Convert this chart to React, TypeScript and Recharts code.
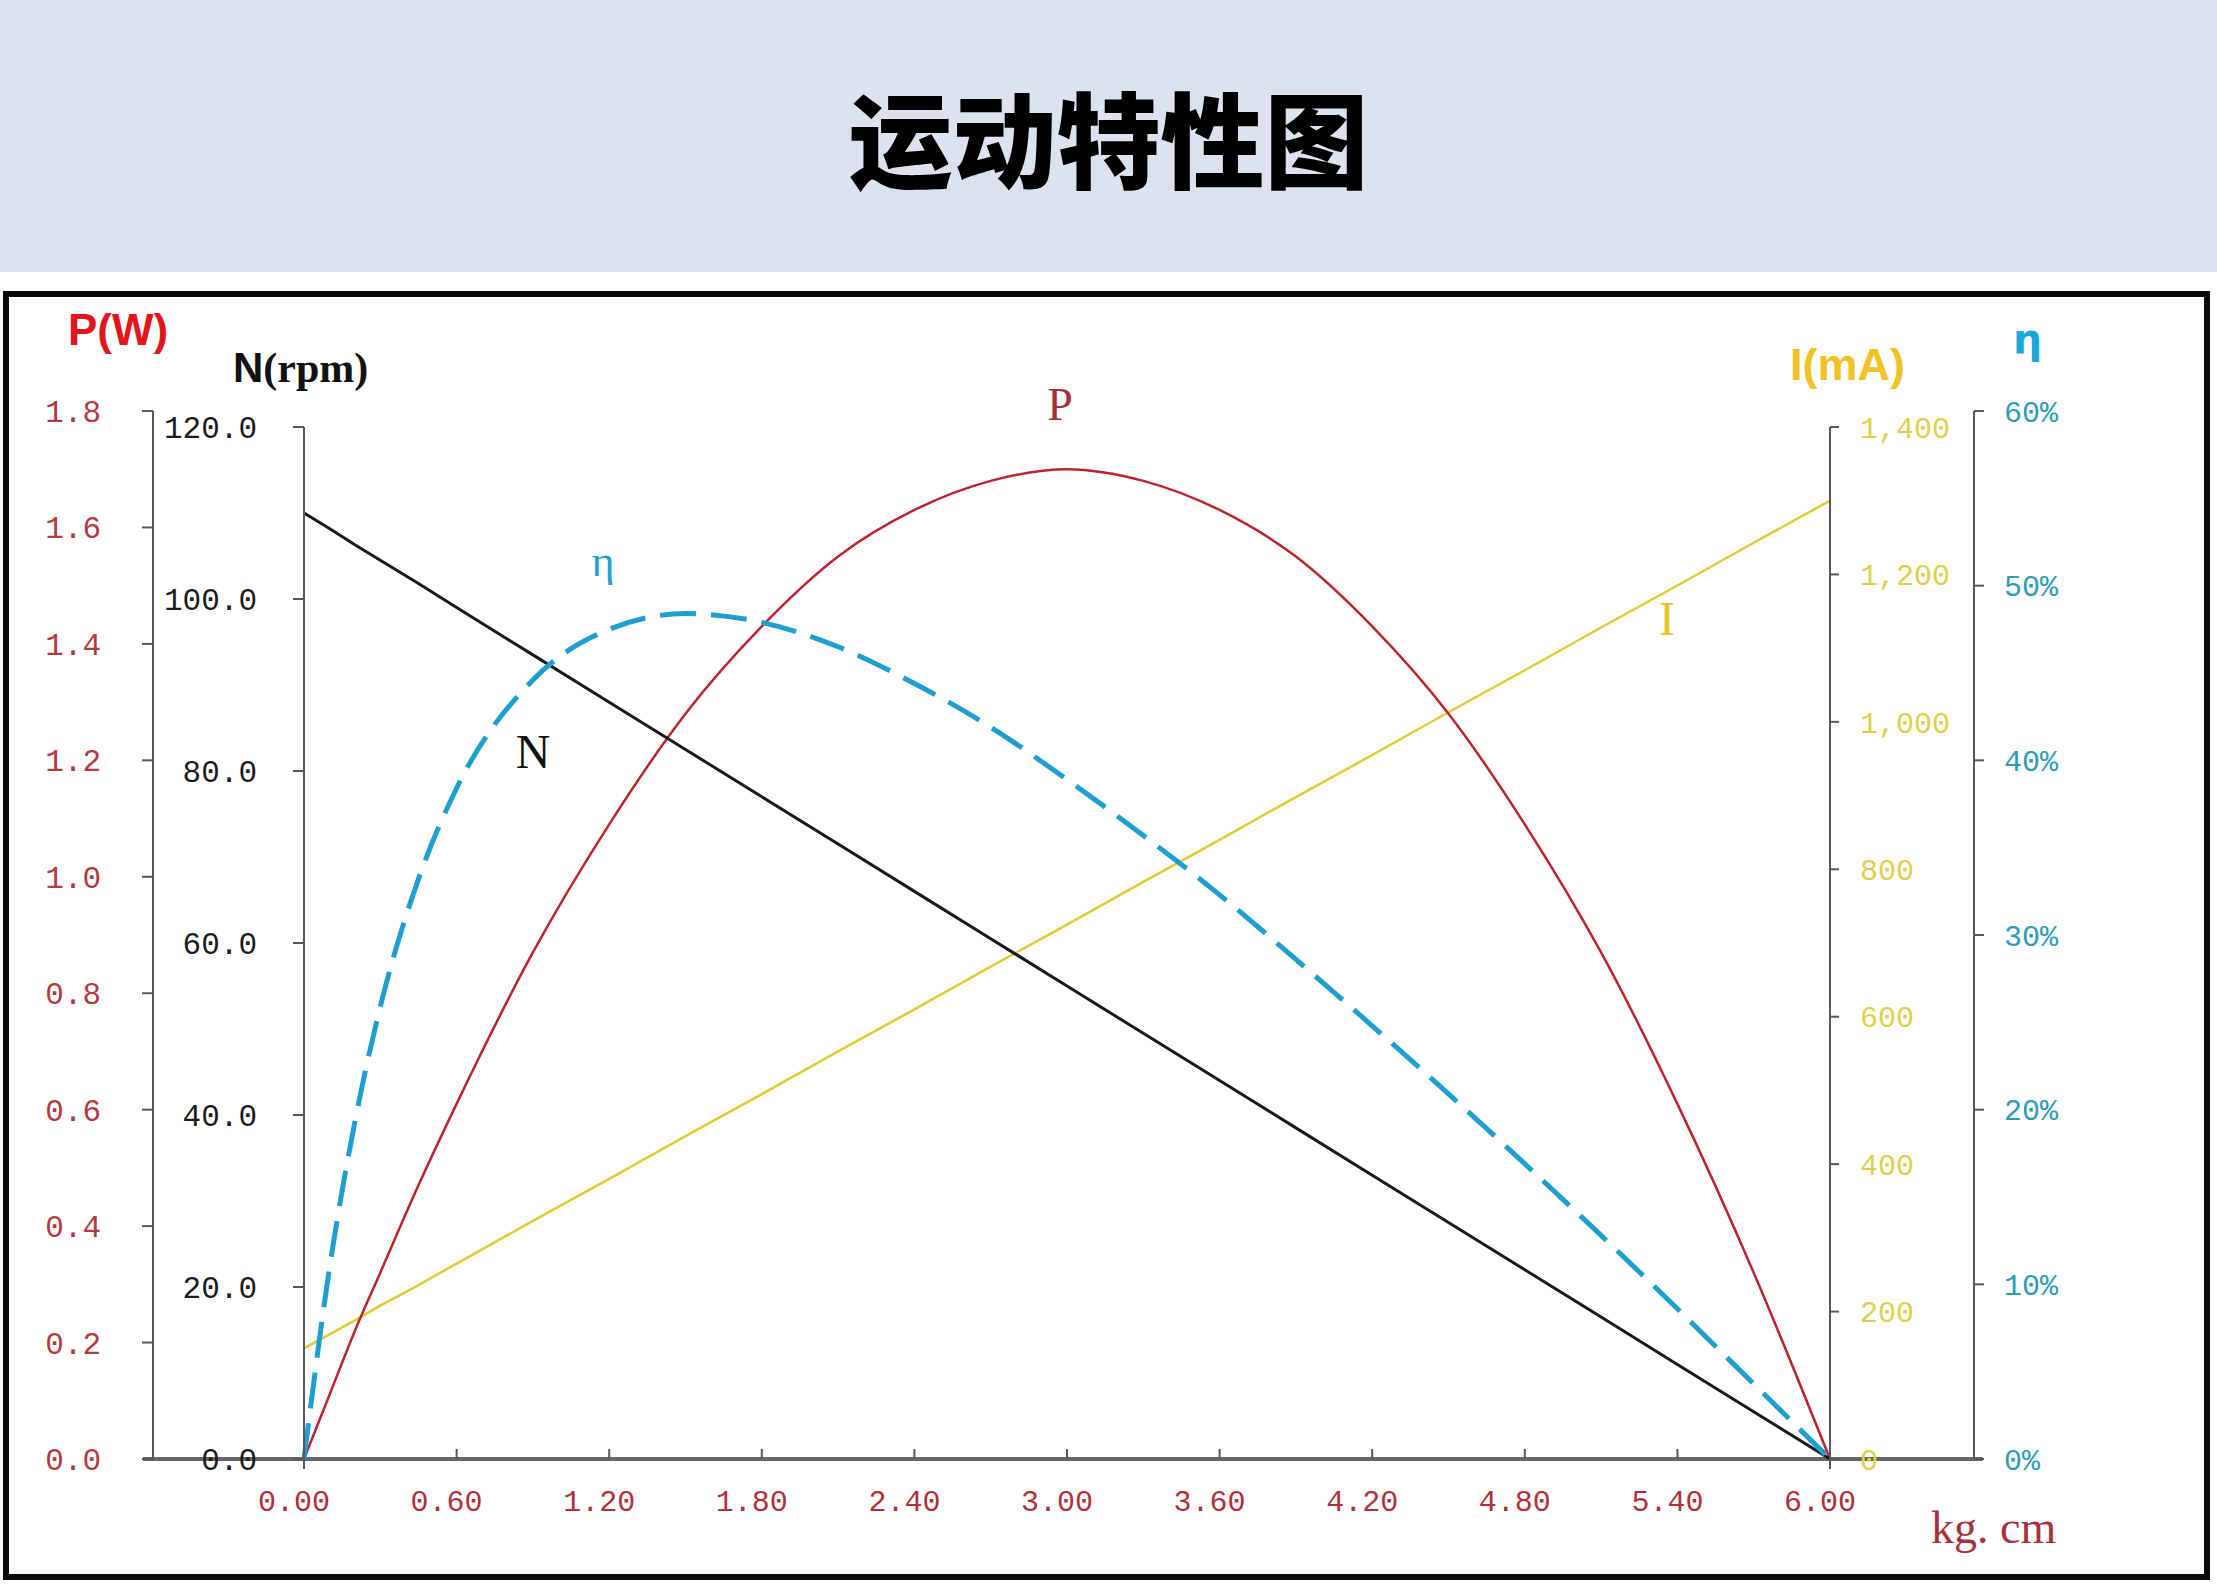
import { LineChart, Line, XAxis, YAxis, ReferenceLine } from "recharts";

// torque (kg.cm) sample points
const torque = [0, 0.1, 0.2, 0.3, 0.45, 0.6, 0.9, 1.2, 1.5, 1.8, 2.1, 2.4, 2.7, 3.0, 3.3, 3.6, 3.9, 4.2, 4.5, 4.8, 5.1, 5.4, 5.7, 6.0];
const powerW = [0, 0.11, 0.22, 0.32, 0.47, 0.61, 0.87, 1.09, 1.28, 1.43, 1.55, 1.63, 1.68, 1.7, 1.68, 1.63, 1.55, 1.43, 1.28, 1.09, 0.87, 0.61, 0.32, 0];
const speedRpm = [110, 108.2, 106.3, 104.5, 101.8, 99, 93.5, 88, 82.5, 77, 71.5, 66, 60.5, 55, 49.5, 44, 38.5, 33, 27.5, 22, 16.5, 11, 5.5, 0];
const currentMa = [150, 169, 188, 208, 236, 265, 323, 380, 438, 495, 553, 610, 668, 725, 783, 840, 898, 955, 1013, 1070, 1128, 1185, 1243, 1300];
const efficiencyPct = [0, 10.9, 19.3, 25.9, 33.2, 38.4, 44.6, 47.5, 48.4, 47.9, 46.5, 44.4, 41.9, 38.9, 35.7, 32.3, 28.6, 24.8, 20.9, 16.9, 12.8, 8.6, 4.3, 0];

const torqueTicks = [0, 0.6, 1.2, 1.8, 2.4, 3.0, 3.6, 4.2, 4.8, 5.4, 6.0];
const powerTicks = [0, 0.2, 0.4, 0.6, 0.8, 1.0, 1.2, 1.4, 1.6, 1.8];
const speedTicks = [0, 20, 40, 60, 80, 100, 120];
const currentTicks = [0, 200, 400, 600, 800, 1000, 1200, 1400];
const efficiencyTicks = [0, 10, 20, 30, 40, 50, 60];

const rows = torque.map((t, i) => ({
  t,
  p: powerW[i],
  n: speedRpm[i],
  i: currentMa[i],
  eta: efficiencyPct[i],
}));

const AXIS = "#585858";
const MONO = "'Liberation Mono', monospace";
const SERIF = "'Liberation Serif', serif";
const SANS = "'Liberation Sans', Arial, sans-serif";

const TorqueTick = ({ x, y, payload }: { x?: number; y?: number; payload?: { value: number } }) => {
  if (x == null || y == null || !payload) return null;
  const end = payload.value === 0 || payload.value === 6;
  return (
    <g>
      <line x1={x} x2={x} y1={end ? y : y - 10} y2={end ? y + 10 : y} stroke={AXIS} strokeWidth={2} />
      <text x={x - 10} y={y + 52} textAnchor="middle" fill="#b0303a" fontSize={30} fontFamily={MONO}>
        {payload.value.toFixed(2)}
      </text>
    </g>
  );
};

export default function App() {
  return (
    <div style={{ position: "absolute", left: 0, top: 0, width: 2217, height: 1589, overflow: "hidden", background: "#fff" }}>
      <div
        style={{
          position: "absolute",
          left: 0,
          top: 0,
          width: 2217,
          height: 272,
          background: "#dde3ee",
          display: "flex",
          alignItems: "center",
          justifyContent: "center",
          fontFamily: "'Noto Sans CJK SC', sans-serif",
          fontWeight: 900,
          fontSize: 104,
          lineHeight: 1,
          color: "#000",
        }}
      >
        运动特性图
      </div>
      <div
        style={{
          position: "absolute",
          left: 3,
          top: 291,
          width: 2207,
          height: 1289,
          boxSizing: "border-box",
          border: "6px solid #0a0a0a",
        }}
      />
      <div style={{ position: "absolute", left: 0, top: 0 }}>
        <LineChart width={2217} height={1589} data={rows} margin={{ top: 411, right: 143, bottom: 70, left: 0 }}>
          <XAxis
            dataKey="t"
            type="number"
            domain={[0, 6]}
            ticks={torqueTicks}
            interval={0}
            height={60}
            axisLine={false}
            tickLine={false}
            tickSize={0}
            tickMargin={0}
            tick={<TorqueTick />}
          />
          <YAxis
            yAxisId="a_speed"
            orientation="left"
            width={151}
            type="number"
            domain={[0, 121.86]}
            ticks={speedTicks}
            interval={0}
            tickFormatter={(v: number) => v.toFixed(1)}
            axisLine={{ stroke: AXIS, strokeWidth: 2, strokeDasharray: "0 16 2000" }}
            tickLine={{ stroke: AXIS, strokeWidth: 2 }}
            tickSize={11}
            tickMargin={36}
            tick={{ fill: "#1c1c1c", fontSize: 31, fontFamily: MONO }}
          />
          <YAxis
            yAxisId="b_power"
            orientation="left"
            width={153}
            type="number"
            domain={[0, 1.8]}
            ticks={powerTicks}
            interval={0}
            tickFormatter={(v: number) => v.toFixed(1)}
            axisLine={{ stroke: AXIS, strokeWidth: 2 }}
            tickLine={{ stroke: AXIS, strokeWidth: 2 }}
            tickSize={11}
            tickMargin={41}
            tick={{ fill: "#b23a40", fontSize: 31, fontFamily: MONO }}
          />
          <YAxis
            yAxisId="c_current"
            orientation="right"
            width={144}
            type="number"
            domain={[0, 1421.7]}
            ticks={currentTicks}
            interval={0}
            tickFormatter={(v: number) => v.toLocaleString("en-US")}
            axisLine={{ stroke: AXIS, strokeWidth: 2, strokeDasharray: "0 16 2000" }}
            tickLine={{ stroke: AXIS, strokeWidth: 2 }}
            tickSize={9}
            tickMargin={21}
            tick={{ fill: "#ddd04a", fontSize: 30, fontFamily: MONO }}
          />
          <YAxis
            yAxisId="d_eff"
            orientation="right"
            width={100}
            type="number"
            domain={[0, 60]}
            ticks={efficiencyTicks}
            interval={0}
            tickFormatter={(v: number) => `${v}%`}
            axisLine={{ stroke: AXIS, strokeWidth: 2 }}
            tickLine={{ stroke: AXIS, strokeWidth: 2 }}
            tickSize={10}
            tickMargin={20}
            tick={{ fill: "#2e9cb4", fontSize: 30, fontFamily: MONO }}
          />
          <ReferenceLine
            yAxisId="b_power"
            segment={[{ x: -0.633, y: 0 }, { x: 6.6, y: 0 }]}
            ifOverflow="visible"
            stroke="#666"
            strokeWidth={4}
          />
          <Line yAxisId="c_current" dataKey="i" type="linear" stroke="#e2cc35" strokeWidth={2.5} dot={false} activeDot={false} isAnimationActive={false} />
          <Line yAxisId="b_power" dataKey="p" type="monotone" stroke="#bb242e" strokeWidth={2.5} dot={false} activeDot={false} isAnimationActive={false} />
          <Line yAxisId="a_speed" dataKey="n" type="linear" stroke="#1a1a1a" strokeWidth={3} dot={false} activeDot={false} isAnimationActive={false} />
          <Line
            yAxisId="d_eff"
            dataKey="eta"
            type="monotone"
            stroke="#1e9fd0"
            strokeWidth={5}
            strokeDasharray="36 15"
            dot={false}
            activeDot={false}
            isAnimationActive={false}
          />
        </LineChart>
      </div>
      <svg width={2217} height={1589} style={{ position: "absolute", left: 0, top: 0, pointerEvents: "none" }}>
        <text x={68} y={345} fontFamily={SANS} fontWeight={700} fontSize={44} fill="#e3161c">P(W)</text>
        <text x={233} y={382} fontWeight={700} fontSize={42} fill="#111">
          <tspan fontFamily={SANS}>N</tspan>
          <tspan fontFamily={SERIF}>(rpm)</tspan>
        </text>
        <text x={1790} y={380} fontFamily={SANS} fontWeight={700} fontSize={45} fill="#f0c325">I(mA)</text>
        <text x={2013} y={353} fontFamily="'DejaVu Sans', sans-serif" fontWeight={700} fontSize={41} fill="#1aa8d8">η</text>
        <text x={1931} y={1543} fontFamily={SERIF} fontSize={46} fill="#a8323c">kg. cm</text>
        <text x={1060} y={420} textAnchor="middle" fontFamily={SERIF} fontSize={46} fill="#a33038">P</text>
        <text x={603} y={576} textAnchor="middle" fontFamily={SERIF} fontSize={44} fill="#22a2cc">η</text>
        <text x={533} y={768} textAnchor="middle" fontFamily={SERIF} fontSize={48} fill="#111">N</text>
        <text x={1667} y={635} textAnchor="middle" fontFamily={SERIF} fontSize={48} fill="#e0c52c">I</text>
      </svg>
    </div>
  );
}
